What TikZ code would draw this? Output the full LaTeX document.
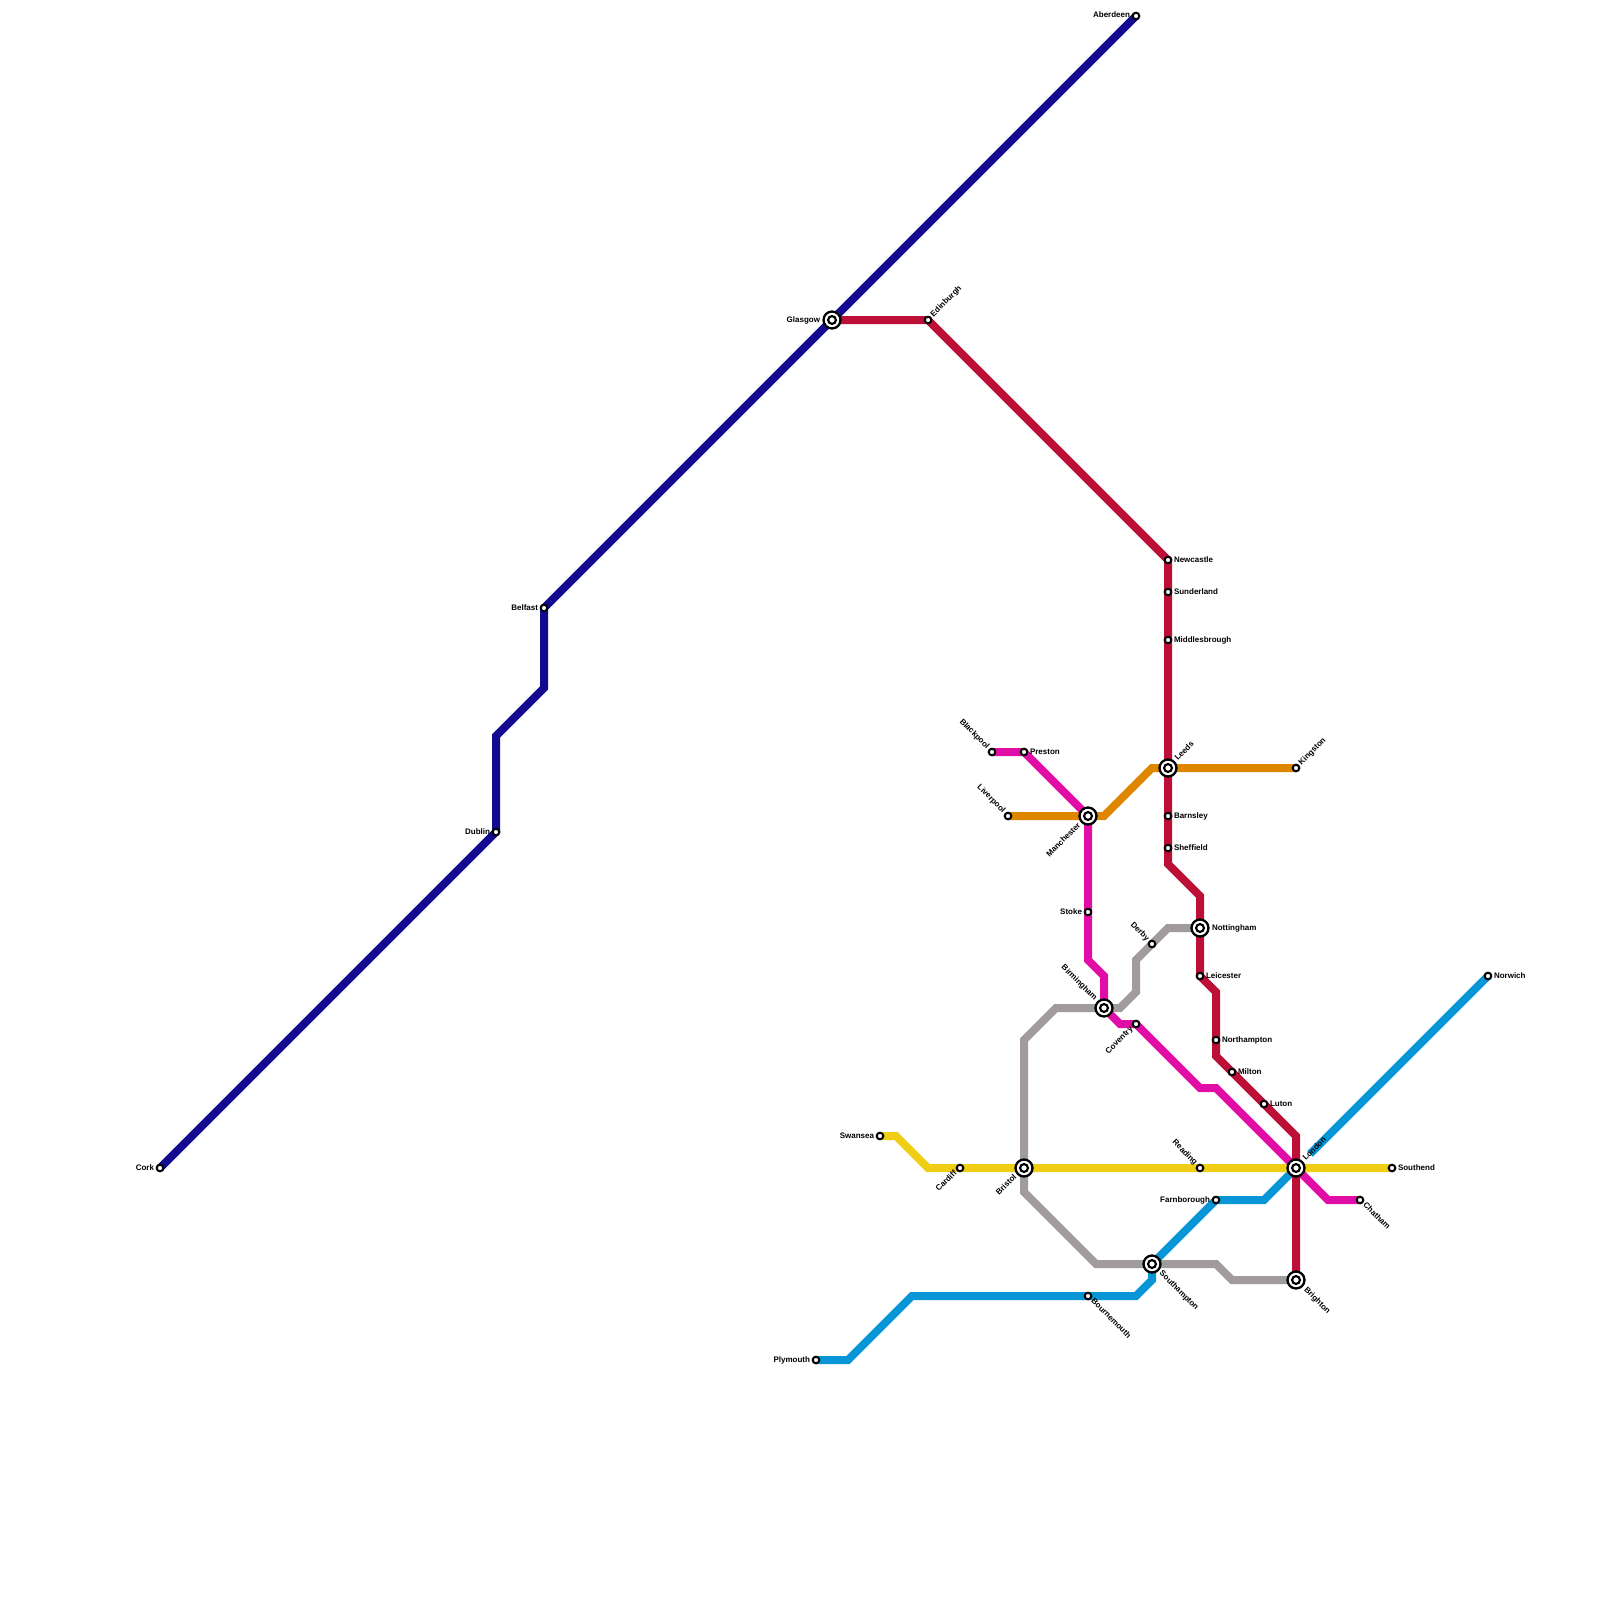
\documentclass[tikz,border=0pt]{standalone}
\usepackage{fontspec}
\setmainfont{Liberation Sans}
\usetikzlibrary{backgrounds}
\definecolor{cnavy}{HTML}{120A8F}
\definecolor{cred}{HTML}{BD1038}
\definecolor{cpink}{HTML}{E00DA7}
\definecolor{corange}{HTML}{DF8600}
\definecolor{cyellow}{HTML}{F0CE15}
\definecolor{cblue}{HTML}{0896D7}
\definecolor{cgray}{HTML}{A19B9B}
\tikzset{
  metro/.style={line width=8pt,line join=miter},
  stn/.style={circle,draw=black,fill=white,line width=2.1pt,minimum size=6.6pt,inner sep=0pt,outer sep=0pt},
  hub/.style={circle,draw=black,fill=white,line width=2.3pt,minimum size=17pt,inner sep=0pt,outer sep=0pt,
    path picture={\draw[black,line width=2.2pt,fill=white] (path picture bounding box.center) circle (3.9pt);}},
  lab/.style={font=\fontsize{8}{9}\selectfont\bfseries,inner sep=0pt,outer sep=0pt,text height=6pt,text depth=2pt,text=black},
  lbE/.style={lab,xshift=#1,anchor=west},
  lbW/.style={lab,xshift=-#1,anchor=east},
  lbNE/.style={lab,xshift={0.707*#1},yshift={0.707*#1},rotate=45,anchor=west},
  lbSE/.style={lab,xshift={0.707*#1},yshift={-0.707*#1},rotate=-45,anchor=west},
  lbNW/.style={lab,xshift={-0.707*#1},yshift={0.707*#1},rotate=-45,anchor=east},
  lbSW/.style={lab,xshift={-0.707*#1},yshift={-0.707*#1},rotate=45,anchor=east},
}
\begin{document}
\begin{tikzpicture}[x=1pt,y=-1pt]
\useasboundingbox (0,0) rectangle (1600,1600);
% stations
\node[stn] (aberdeen) at (1136,16) {};
\node[hub] (glasgow) at (832,320) {};
\node[stn] (edinburgh) at (928,320) {};
\node[stn] (newcastle) at (1168,560) {};
\node[stn] (sunderland) at (1168,592) {};
\node[stn] (middlesbrough) at (1168,640) {};
\node[hub] (leeds) at (1168,768) {};
\node[stn] (kingston) at (1296,768) {};
\node[stn] (barnsley) at (1168,816) {};
\node[stn] (sheffield) at (1168,848) {};
\node[hub] (nottingham) at (1200,928) {};
\node[stn] (leicester) at (1200,976) {};
\node[stn] (northampton) at (1216,1040) {};
\node[stn] (milton) at (1232,1072) {};
\node[stn] (luton) at (1264,1104) {};
\node[hub] (london) at (1296,1168) {};
\node[hub] (brighton) at (1296,1280) {};
\node[stn] (derby) at (1152,944) {};
\node[hub] (birmingham) at (1104,1008) {};
\node[stn] (coventry) at (1136,1024) {};
\node[hub] (manchester) at (1088,816) {};
\node[stn] (liverpool) at (1008,816) {};
\node[stn] (blackpool) at (992,752) {};
\node[stn] (preston) at (1024,752) {};
\node[stn] (stoke) at (1088,912) {};
\node[hub] (southampton) at (1152,1264) {};
\node[stn] (bournemouth) at (1088,1296) {};
\node[stn] (farnborough) at (1216,1200) {};
\node[stn] (reading) at (1200,1168) {};
\node[hub] (bristol) at (1024,1168) {};
\node[stn] (cardiff) at (960,1168) {};
\node[stn] (swansea) at (880,1136) {};
\node[stn] (plymouth) at (816,1360) {};
\node[stn] (chatham) at (1360,1200) {};
\node[stn] (southend) at (1392,1168) {};
\node[stn] (norwich) at (1488,976) {};
\node[stn] (belfast) at (544,608) {};
\node[stn] (dublin) at (496,832) {};
\node[stn] (cork) at (160,1168) {};
\coordinate (londonNE) at (1310,1154);
% lines
\begin{pgfonlayer}{background}
\draw[metro,cgray] (nottingham.center) -- (1168,928) -- (1136,960) -- (1136,992) -- (1120,1008) -- (birmingham.center) -- (1056,1008) -- (1024,1040) -- (bristol.center) -- (1024,1192) -- (1096,1264) -- (southampton.center) -- (1216,1264) -- (1232,1280) -- (brighton.center);
\draw[metro,cblue] (norwich.center) -- (londonNE);
\draw[metro,cblue] (london.center) -- (1264,1200) -- (farnborough.center) -- (southampton.center) -- (1152,1280) -- (1136,1296) -- (bournemouth.center) -- (912,1296) -- (848,1360) -- (plymouth.center);
\draw[metro,cyellow] (swansea.center) -- (896,1136) -- (928,1168) -- (cardiff.center) -- (bristol.center) -- (reading.center) -- (london.center) -- (southend.center);
\draw[metro,corange] (liverpool.center) -- (manchester.center) -- (1104,816) -- (1152,768) -- (leeds.center) -- (kingston.center);
\draw[metro,cpink] (blackpool.center) -- (preston.center) -- (manchester.center) -- (stoke.center) -- (1088,960) -- (1104,976) -- (birmingham.center) -- (1120,1024) -- (coventry.center) -- (1200,1088) -- (1216,1088) -- (london.center) -- (1328,1200) -- (chatham.center);
\draw[metro,cred] (glasgow.center) -- (edinburgh.center) -- (newcastle.center) -- (sunderland.center) -- (middlesbrough.center) -- (leeds.center) -- (barnsley.center) -- (sheffield.center) -- (1168,864) -- (1200,896) -- (nottingham.center) -- (leicester.center) -- (1216,992) -- (northampton.center) -- (1216,1056) -- (milton.center) -- (luton.center) -- (1296,1136) -- (london.center) -- (brighton.center);
\draw[metro,cnavy] (aberdeen.center) -- (glasgow.center) -- (belfast.center) -- (544,688) -- (496,736) -- (dublin.center) -- (cork.center);
\end{pgfonlayer}
% labels
\node[lbW=6pt] (tAberdeen) at (aberdeen) {Aberdeen};
\node[lbW=12pt] (tGlasgow) at (glasgow) {Glasgow};
\node[lbNE=6pt] (tEdinburgh) at (edinburgh) {Edinburgh};
\node[lbE=6pt] (tNewcastle) at (newcastle) {Newcastle};
\node[lbE=6pt] (tSunderland) at (sunderland) {Sunderland};
\node[lbE=6pt] (tMiddlesbrough) at (middlesbrough) {Middlesbrough};
\node[lbNE=12pt] (tLeeds) at (leeds) {Leeds};
\node[lbNE=6pt] (tKingston) at (kingston) {Kingston};
\node[lbE=6pt] (tBarnsley) at (barnsley) {Barnsley};
\node[lbE=6pt] (tSheffield) at (sheffield) {Sheffield};
\node[lbE=12pt] (tNottingham) at (nottingham) {Nottingham};
\node[lbE=6pt] (tLeicester) at (leicester) {Leicester};
\node[lbE=6pt] (tNorthampton) at (northampton) {Northampton};
\node[lbE=6pt] (tMilton) at (milton) {Milton};
\node[lbE=6pt] (tLuton) at (luton) {Luton};
\node[lbNE=12pt] (tLondon) at (london) {London};
\node[lbSE=13pt] (tBrighton) at (brighton) {Brighton};
\node[lbNW=6pt] (tDerby) at (derby) {Derby};
\node[lbNW=12pt] (tBirmingham) at (birmingham) {Birmingham};
\node[lbSW=6pt] (tCoventry) at (coventry) {Coventry};
\node[lbSW=12pt] (tManchester) at (manchester) {Manchester};
\node[lbNW=6pt] (tLiverpool) at (liverpool) {Liverpool};
\node[lbNW=6pt] (tBlackpool) at (blackpool) {Blackpool};
\node[lbE=6pt] (tPreston) at (preston) {Preston};
\node[lbW=6pt] (tStoke) at (stoke) {Stoke};
\node[lbSE=12pt] (tSouthampton) at (southampton) {Southampton};
\node[lbSE=6pt] (tBournemouth) at (bournemouth) {Bournemouth};
\node[lbW=6pt] (tFarnborough) at (farnborough) {Farnborough};
\node[lbNW=6pt] (tReading) at (reading) {Reading};
\node[lbSW=12pt] (tBristol) at (bristol) {Bristol};
\node[lbSW=6pt] (tCardiff) at (cardiff) {Cardiff};
\node[lbW=6pt] (tSwansea) at (swansea) {Swansea};
\node[lbW=6pt] (tPlymouth) at (plymouth) {Plymouth};
\node[lbSE=6pt] (tChatham) at (chatham) {Chatham};
\node[lbE=6pt] (tSouthend) at (southend) {Southend};
\node[lbE=6pt] (tNorwich) at (norwich) {Norwich};
\node[lbW=6pt] (tBelfast) at (belfast) {Belfast};
\node[lbW=6pt] (tDublin) at (dublin) {Dublin};
\node[lbW=6pt] (tCork) at (cork) {Cork};
\end{tikzpicture}
\end{document}
